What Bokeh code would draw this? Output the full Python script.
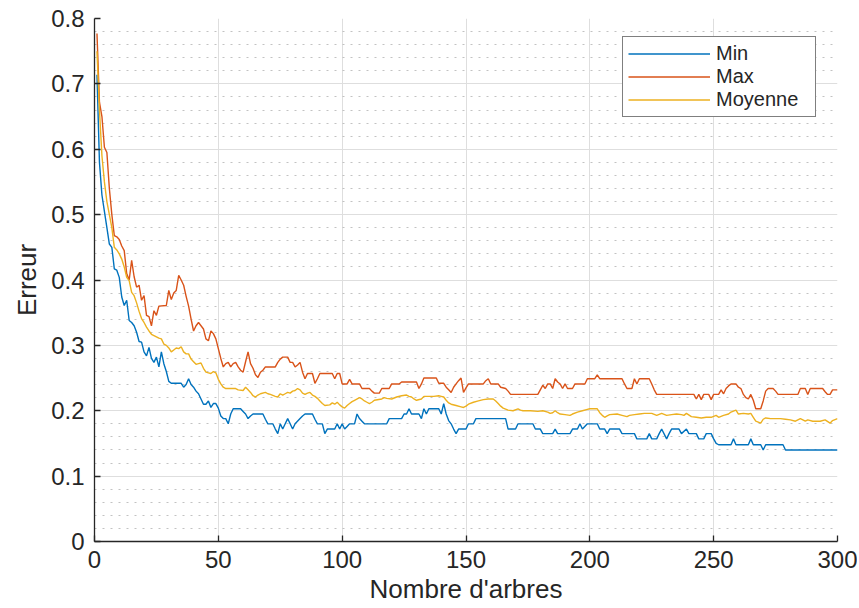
from bokeh.plotting import figure
from bokeh.models import FixedTicker, Legend, LegendItem, CustomJSTickFormatter, ColumnDataSource
from bokeh.embed import file_html
from bokeh.resources import INLINE

# ---- data (x = number of trees, y = error) ----
max_x = [1,2,3,4,5,6,7,8,9,10,11,12,13,14,15,16,17,18,19,20,21,22,23,24,25,26,29,30,31,32,33,34,35,36,37,38,39,40,41,42,43,44,45,46,47,48,49,50,51,52,53,54,55,56,57,58,59,60,61,62,63,64,65,66,67,68,69,73,74,75,76,78,79,80,81,82,83,84,85,86,88,89,90,91,96,97,98,99,100,102,103,104,107,108,111,112,113,115,116,119,120,123,124,130,131,132,133,138,139,141,142,143,144,145,146,147,148,149,150,151,157,158,159,160,163,164,166,167,168,179,180,181,182,183,184,185,186,187,188,189,190,191,193,194,198,199,202,203,204,213,214,215,217,218,219,220,224,225,226,227,242,243,244,245,246,248,249,250,252,253,254,255,256,257,259,260,261,262,263,264,265,266,267,269,270,271,272,274,275,276,284,285,287,288,289,294,295,296,297,298,300]
max_y = [0.777,0.672,0.65,0.603,0.595,0.54,0.50,0.468,0.466,0.462,0.452,0.445,0.41,0.40,0.43,0.405,0.389,0.392,0.369,0.376,0.346,0.344,0.33,0.353,0.346,0.36,0.361,0.384,0.37,0.38,0.384,0.407,0.40,0.392,0.375,0.36,0.34,0.322,0.33,0.335,0.33,0.325,0.31,0.307,0.322,0.318,0.31,0.295,0.28,0.267,0.272,0.274,0.267,0.272,0.274,0.267,0.262,0.259,0.275,0.29,0.272,0.265,0.255,0.251,0.259,0.262,0.267,0.267,0.274,0.279,0.282,0.282,0.274,0.274,0.267,0.27,0.274,0.259,0.249,0.257,0.257,0.242,0.249,0.257,0.257,0.249,0.257,0.257,0.241,0.241,0.248,0.241,0.241,0.234,0.234,0.23,0.227,0.227,0.234,0.234,0.241,0.241,0.244,0.244,0.234,0.241,0.25,0.25,0.242,0.242,0.236,0.232,0.228,0.236,0.241,0.246,0.25,0.228,0.235,0.241,0.241,0.246,0.249,0.241,0.241,0.236,0.234,0.23,0.225,0.225,0.232,0.239,0.234,0.241,0.241,0.234,0.249,0.244,0.241,0.234,0.241,0.234,0.234,0.241,0.241,0.249,0.249,0.255,0.249,0.249,0.241,0.234,0.234,0.249,0.241,0.249,0.249,0.241,0.232,0.225,0.225,0.218,0.225,0.217,0.225,0.225,0.217,0.225,0.225,0.232,0.226,0.234,0.238,0.241,0.241,0.236,0.234,0.225,0.22,0.218,0.225,0.216,0.203,0.203,0.215,0.23,0.234,0.234,0.23,0.225,0.225,0.234,0.234,0.225,0.234,0.234,0.229,0.225,0.225,0.232,0.232]

moy_x = [1,2,3,4,5,6,7,8,9,10,11,12,13,14,15,16,17,18,19,20,21,22,23,24,25,26,27,28,29,30,31,32,33,34,35,36,37,38,39,40,41,42,43,44,45,46,47,48,49,50,51,52,53,57,58,60,61,62,63,64,65,66,67,69,70,71,73,74,75,76,77,78,79,80,81,82,83,84,85,86,87,88,89,90,91,92,93,95,96,97,98,99,100,101,102,103,104,105,107,108,109,110,111,112,113,116,117,118,120,122,124,126,127,128,129,130,132,133,137,139,140,141,142,143,144,146,148,149,150,151,153,155,157,159,161,162,163,164,165,167,169,171,172,173,176,179,181,183,184,185,186,187,188,190,192,193,195,197,199,200,203,204,205,206,207,208,211,213,215,216,218,220,222,225,227,229,231,233,235,237,238,239,241,243,245,247,249,251,252,254,256,257,259,260,262,264,265,266,267,269,270,271,273,277,279,281,283,285,287,288,290,293,295,297,298,300]
moy_y = [0.75,0.66,0.59,0.55,0.52,0.50,0.48,0.45,0.446,0.44,0.432,0.42,0.404,0.399,0.381,0.376,0.365,0.352,0.341,0.335,0.328,0.322,0.317,0.315,0.313,0.311,0.31,0.302,0.30,0.296,0.29,0.293,0.296,0.295,0.298,0.29,0.287,0.287,0.279,0.275,0.271,0.272,0.273,0.265,0.259,0.258,0.257,0.26,0.258,0.248,0.241,0.236,0.234,0.234,0.232,0.231,0.236,0.232,0.228,0.223,0.221,0.224,0.226,0.228,0.226,0.225,0.222,0.221,0.226,0.224,0.226,0.228,0.227,0.23,0.231,0.234,0.232,0.227,0.225,0.227,0.228,0.224,0.222,0.219,0.215,0.211,0.208,0.209,0.212,0.21,0.213,0.209,0.206,0.204,0.208,0.211,0.214,0.216,0.22,0.218,0.215,0.213,0.211,0.213,0.216,0.218,0.22,0.219,0.218,0.221,0.223,0.224,0.222,0.221,0.218,0.216,0.218,0.222,0.222,0.223,0.222,0.221,0.216,0.212,0.21,0.208,0.206,0.205,0.207,0.21,0.213,0.215,0.217,0.218,0.218,0.215,0.211,0.207,0.204,0.201,0.20,0.203,0.201,0.20,0.20,0.199,0.20,0.198,0.196,0.197,0.20,0.197,0.195,0.194,0.193,0.195,0.198,0.20,0.202,0.203,0.203,0.197,0.193,0.19,0.192,0.194,0.195,0.193,0.191,0.193,0.194,0.195,0.196,0.196,0.193,0.196,0.193,0.194,0.195,0.194,0.193,0.196,0.191,0.19,0.189,0.19,0.19,0.193,0.19,0.193,0.195,0.198,0.201,0.195,0.196,0.195,0.196,0.19,0.184,0.181,0.187,0.189,0.188,0.188,0.187,0.186,0.184,0.188,0.184,0.186,0.184,0.184,0.186,0.181,0.185,0.188]

min_x = [1,2,3,4,5,6,7,8,9,10,11,12,13,14,15,16,17,18,19,20,21,22,23,24,25,26,27,28,29,30,31,35,36,37,38,39,40,41,42,43,44,45,46,47,48,49,50,51,52,53,54,55,56,59,60,61,62,63,64,68,69,70,72,73,74,75,76,77,78,79,80,81,83,84,85,88,89,90,92,93,94,97,98,99,100,101,102,103,105,106,107,108,109,118,119,124,125,126,127,128,131,132,133,134,135,139,140,141,142,143,144,145,146,147,150,151,153,154,166,167,170,171,177,178,180,181,185,186,187,192,193,195,196,197,199,203,204,206,207,208,212,213,218,219,223,224,225,227,228,229,231,232,233,236,237,239,240,243,244,246,247,249,250,251,252,257,258,259,264,265,266,269,270,271,278,279,300]
min_y = [0.714,0.58,0.53,0.505,0.48,0.455,0.45,0.417,0.415,0.404,0.374,0.361,0.369,0.338,0.335,0.33,0.32,0.306,0.305,0.29,0.284,0.297,0.28,0.274,0.282,0.267,0.29,0.272,0.26,0.245,0.242,0.242,0.236,0.24,0.249,0.24,0.236,0.23,0.226,0.218,0.21,0.21,0.215,0.205,0.211,0.211,0.204,0.192,0.188,0.188,0.18,0.195,0.203,0.203,0.199,0.195,0.188,0.192,0.195,0.195,0.187,0.18,0.18,0.172,0.165,0.18,0.172,0.18,0.188,0.18,0.172,0.18,0.188,0.192,0.195,0.195,0.187,0.18,0.18,0.165,0.172,0.172,0.18,0.172,0.18,0.172,0.176,0.18,0.18,0.195,0.188,0.184,0.18,0.18,0.188,0.188,0.195,0.195,0.203,0.195,0.195,0.188,0.203,0.195,0.203,0.203,0.195,0.211,0.195,0.185,0.18,0.172,0.165,0.172,0.172,0.18,0.18,0.188,0.188,0.172,0.172,0.18,0.18,0.172,0.172,0.165,0.165,0.172,0.165,0.165,0.172,0.172,0.18,0.172,0.18,0.18,0.172,0.172,0.165,0.172,0.172,0.165,0.165,0.157,0.157,0.165,0.157,0.157,0.165,0.172,0.157,0.165,0.172,0.172,0.165,0.172,0.165,0.165,0.157,0.157,0.165,0.165,0.157,0.15,0.148,0.148,0.157,0.148,0.148,0.157,0.148,0.148,0.14,0.148,0.148,0.14,0.14]

series_names = ["Min", "Max", "Moyenne"]
series_colors = ["#0072BD", "#D95319", "#EDB120"]

x_ticks = [0, 50, 100, 150, 200, 250, 300]
y_ticks = [0, 0.1, 0.2, 0.3, 0.4, 0.5, 0.6, 0.7, 0.8]
y_minor = [0.02, 0.04, 0.06, 0.08, 0.12, 0.14, 0.16, 0.18, 0.22, 0.24, 0.26, 0.28,
           0.32, 0.34, 0.36, 0.38, 0.42, 0.44, 0.46, 0.48, 0.52, 0.54, 0.56, 0.58,
           0.62, 0.64, 0.66, 0.68, 0.72, 0.74, 0.76, 0.78]

FONT = "Liberation Sans"
TXT = "#262626"

p = figure(width=857, height=606, x_range=(0, 300), y_range=(0, 0.8),
           output_backend="svg", toolbar_location=None,
           min_border_left=94, min_border_right=20, min_border_top=18, min_border_bottom=65)
p.outline_line_color = None
p.background_fill_color = "white"

p.xaxis.ticker = FixedTicker(ticks=x_ticks)
p.yaxis.ticker = FixedTicker(ticks=y_ticks, minor_ticks=y_minor)
p.yaxis.formatter = CustomJSTickFormatter(code="return tick == 0 ? '0' : tick.toFixed(1);")

for ax in (p.xaxis, p.yaxis):
    ax.axis_line_color = TXT
    ax.axis_line_width = 1.3
    ax.major_tick_line_color = TXT
    ax.major_tick_line_width = 1.3
    ax.major_tick_in = 6
    ax.major_tick_out = 0
    ax.minor_tick_in = 0
    ax.minor_tick_out = 0
    ax.major_label_text_font = FONT
    ax.major_label_text_font_size = "24px"
    ax.major_label_text_color = TXT
    ax.axis_label_text_font = FONT
    ax.axis_label_text_font_size = "26px"
    ax.axis_label_text_font_style = "normal"
    ax.axis_label_text_color = TXT

p.xaxis.major_label_standoff = 9
p.yaxis.major_label_standoff = 10
p.xaxis.axis_label = "Nombre d'arbres"
p.yaxis.axis_label = "Erreur"
p.xaxis.axis_label_standoff = 3
p.yaxis.axis_label_standoff = 6

p.xgrid.grid_line_color = "#dedede"
p.ygrid.grid_line_color = "#dedede"
p.ygrid.minor_grid_line_color = "#c2c2c2"
p.ygrid.minor_grid_line_dash = "2 6"

items = []
for name, xs, ys, col in zip(series_names, [min_x, max_x, moy_x], [min_y, max_y, moy_y], series_colors):
    src = ColumnDataSource(dict(x=xs, y=ys))
    r = p.line("x", "y", source=src, line_color=col, line_width=1.4)
    items.append(LegendItem(label=name, renderers=[r]))

legend = Legend(items=items, location=(528, 424))
legend.border_line_color = "black"
legend.border_line_width = 1
legend.background_fill_color = "white"
legend.background_fill_alpha = 1
legend.padding = 5
legend.spacing = 0
legend.margin = 0
legend.glyph_width = 82
legend.glyph_height = 21
legend.label_height = 21
legend.label_width = 94
legend.label_standoff = 6
legend.label_text_font = FONT
legend.label_text_font_size = "20px"
legend.label_text_color = TXT
p.add_layout(legend)

open("out.html", "w").write(file_html(p, INLINE))
